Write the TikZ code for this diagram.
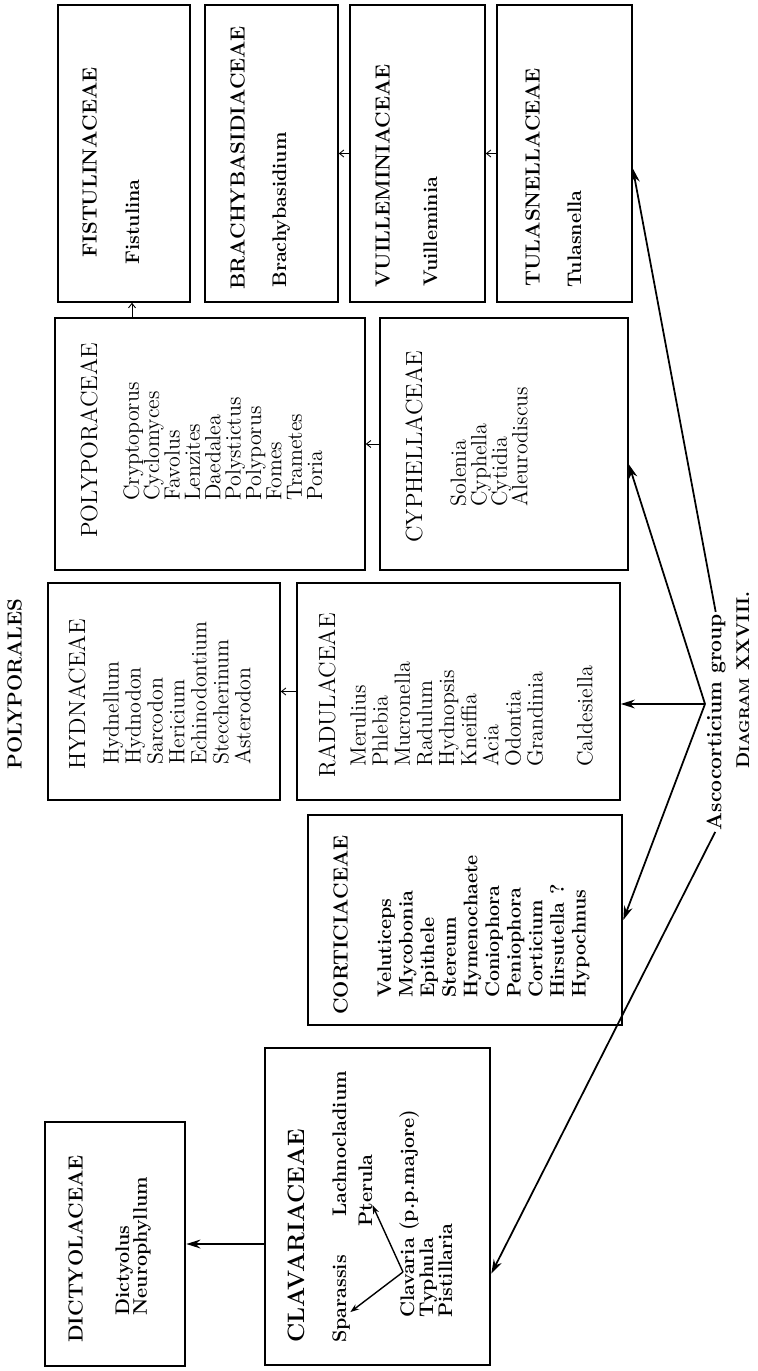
\documentclass[tikz,border=0pt]{standalone}
\usetikzlibrary{arrows.meta,calc,fit}

\begin{document}
\begin{tikzpicture}[x=0.02cm, y=-0.02cm,
    box/.style={draw, line width=0.9pt, inner sep=0pt},
    heavybox/.style={box, line width=1.5pt},
    ttl/.style={rotate=90, anchor=north west, inner sep=0pt, font=\fontsize{13.3}{14}\selectfont},
    bttl/.style={ttl, font=\fontsize{11.6}{12}\selectfont\bfseries},
    gen/.style={rotate=90, anchor=north west, inner sep=0pt, align=left, font=\fontsize{12.5}{#1}\selectfont},
    gen/.default=12.5,
    bgen/.style={rotate=90, anchor=north west, inner sep=0pt, align=left, font=\fontsize{11.2}{#1}\selectfont\bfseries},
    bgen/.default=12.3,
    barr/.style={-{Stealth[length=8pt,width=5pt]}, line width=1pt},
    marr/.style={-{Stealth[length=5pt,width=3.5pt]}, line width=0.8pt},
    sarr/.style={-{Straight Barb[length=2.5pt,width=4pt]}, line width=0.5pt}
]
    \useasboundingbox (0,0) rectangle (757,1371);

    % family boxes
    \foreach \n/\xa/\ya/\xb/\yb in {fist/58/5/190/302, brach/205/5/338/302, vuil/350/5/485/302,
        tul/497/5/632/302, poly/55/318/365/570, cyph/380/318/628/570, hydn/48/583/280/800,
        radu/297/583/620/800} {
        \node[box, fit={(\xa,\ya) (\xb,\yb)}] (\n) {};
    }
    \foreach \n/\xa/\ya/\xb/\yb in {cort/308/815/622/1025, clav/265/1048/490/1365, dict/45/1122/185/1366} {
        \node[heavybox, fit={(\xa,\ya) (\xb,\yb)}] (\n) {};
    }

    \node[bttl] (order) at (7,770) {POLYPORALES};

    \node[bttl] (fistT) at (82,258) {FISTULINACEAE};
    \node[bgen] (fistG) at (125,265) {Fistulina};
    \node[bttl] (brachT) at (230,290) {BRACHYBASIDIACEAE};
    \node[bgen] (brachG) at (272,288) {Brachybasidium};
    \node[bttl] (vuilT) at (375,288) {VUILLEMINIACEAE};
    \node[bgen] (vuilG) at (423,287) {Vuilleminia};
    \node[bttl] (tulT) at (525,287) {TULASNELLACEAE};
    \node[bgen] (tulG) at (567,288) {Tulasnella};

    \node[ttl] (polyT) at (80,538) {POLYPORACEAE};
    \node[gen=11.6] (polyG) at (123,501) {Cryptoporus\\Cyclomyces\\Favolus\\Lenzites\\Daedalea\\Polystictus\\Polyporus\\Fomes\\Trametes\\Poria};
    \node[ttl] (cyphT) at (405,543) {CYPHELLACEAE};
    \node[gen=11.7] (cyphG) at (450,507) {Solenia\\Cyphella\\Cytidia\\Aleurodiscus};

    \node[ttl] (hydnT) at (68,770) {HYDNACEAE};
    \node[gen=12.5] (hydnG) at (103,765) {Hydnellum\\Hydnodon\\Sarcodon\\Hericium\\Echinodontium\\Steccherinum\\Asterodon};
    \node[ttl] (raduT) at (318,778) {RADULACEAE};
    \node[gen=12.6] (raduG) at (350,767) {Merulius\\Phlebia\\Mucronella\\Radulum\\Hydnopsis\\Kneiffia\\Acia\\Odontia\\Grandinia\\[15.7pt]Caldesiella};

    \node[bttl] (cortT) at (333,1015) {CORTICIACEAE};
    \node[bgen=12.3] (cortG) at (377,998) {Veluticeps\\Mycobonia\\Epithele\\Stereum\\Hymenochaete\\Coniophora\\Peniophora\\Corticium\\Hirsutella ?\\Hypochnus};

    \node[bttl] (dictT) at (68,1343) {DICTYOLACEAE};
    \node[bgen=10.2] (dictG) at (115,1316) {Dictyolus\\Neurophyllum};

    \node[bttl, font=\fontsize{13.5}{14}\selectfont\bfseries] (clavT) at (288,1343) {CLAVARIACEAE};
    \node[bgen] (spar) at (332,1343) {Sparassis};
    \node[bgen] (lach) at (332,1217) {Lachnocladium};
    \node[bgen] (pter) at (358,1227) {Pterula};
    \node[bgen=10.8] (clavG) at (399,1318) {Clavaria (p.p.majore)\\Typhula\\Pistillaria};
    \coordinate (clvpt) at (403,1272);

    \node[rotate=90, inner sep=0pt, font=\fontsize{12}{12}\selectfont\bfseries] (asco) at (716,722) {Ascocorticium group};
    \node[rotate=90, inner sep=0pt, font=\fontsize{10.5}{11}\selectfont\bfseries] (diag) at (743,680) {D{\fontsize{8}{9}\selectfont IAGRAM} XXVIII.};
    \coordinate (j) at (705,704);

    % connectors
    \foreach \a/\b in {cyph/poly, vuil/brach, tul/vuil, radu/hydn}
        \draw[sarr] (\a.west) -- (\b.east);
    \draw[sarr] ($(fist.south |- poly.north)+(8,0)$) -- ($(fist.south)+(8,0)$);
    \draw[barr, line width=1.2pt] (clav.west |- dict.east) -- (dict.east);

    \draw[marr] (clvpt) -- ($(spar.south west)!0.35!(spar.south east)$);
    \draw[marr] (clvpt) -- ($(pter.south west)!0.3!(pter.south east)$);

    \draw[barr] (j) -- (radu.east |- j);
    \draw[barr] (j) -- ($(cyph.north east)!0.58!(cyph.south east)$);
    \draw[barr] (j) -- (cort.east);
    \draw[barr, shorten <=1pt] (asco.east) -- ($(tul.north east)!0.55!(tul.south east)$);
    \draw[barr, shorten <=1pt] (asco.west) -- ($(clav.north east)!0.71!(clav.south east)$);
\end{tikzpicture}
\end{document}
